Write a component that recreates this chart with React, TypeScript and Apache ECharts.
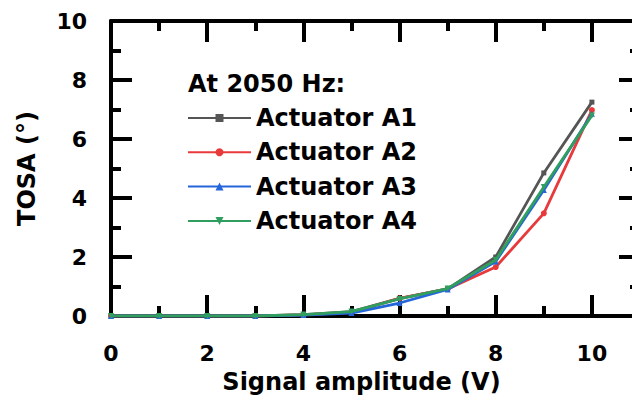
import React, { useEffect, useRef } from "react";
import * as echarts from "echarts";

const xValues = [0, 1, 2, 3, 4, 5, 6, 7, 8, 9, 10];
const seriesNames = ["Actuator A1", "Actuator A2", "Actuator A3", "Actuator A4"];
const a1 = [0, 0, 0, 0, 0.05, 0.15, 0.6, 0.92, 2.0, 4.85, 7.25];
const a2 = [0, 0, 0, 0, 0.04, 0.12, 0.6, 0.92, 1.66, 3.48, 6.98];
const a3 = [0, 0, 0, 0, 0.03, 0.1, 0.44, 0.9, 1.85, 4.27, 6.86];
const a4 = [0, 0, 0, 0, 0.05, 0.15, 0.58, 0.93, 1.9, 4.37, 6.8];
const legendTitle = "At 2050 Hz:";
const xName = "Signal amplitude (V)";
const yName = "TOSA (°)";

const colors = ["#555555", "#e8393b", "#2466d9", "#2f9e5f"];
const symbols = ["rect", "circle", "triangle", "path://M0,0 L10,0 L5,10 Z"];
const FONT = "DejaVu Sans";

export default function App() {
  const ref = useRef<HTMLDivElement>(null);
  useEffect(() => {
    document.body.style.margin = "0";
    const chart = echarts.init(ref.current!, null, { renderer: "svg" });
    const allData = [a1, a2, a3, a4];
    const axisLine = { show: true, onZero: false, lineStyle: { color: "#000", width: 4 } };
    const majorTick = { show: true, inside: true, length: 21, lineStyle: { color: "#000", width: 4 } };
    const minorTick = { show: true, splitNumber: 2, length: 10, lineStyle: { color: "#000", width: 4 } };
    const labelStyle = { color: "#000", fontFamily: FONT, fontWeight: "bold" as const, fontSize: 22 };
    chart.setOption({
      animation: false,
      backgroundColor: "#fff",
      grid: { left: 111, top: 21, right: 20, bottom: 89 },
      legend: {
        orient: "vertical",
        left: 187,
        top: 106,
        padding: 0,
        itemWidth: 63,
        itemHeight: 10,
        itemGap: 10.3,
        data: seriesNames,
        textStyle: { color: "#000", fontFamily: FONT, fontWeight: "bold", fontSize: 24, lineHeight: 24 },
      },
      graphic: [
        {
          type: "text",
          left: 188,
          top: 72,
          style: { text: legendTitle, fill: "#000", font: `bold 24px "${FONT}"` },
        },
      ],
      xAxis: [
        {
          type: "value",
          min: 0,
          max: 11,
          interval: 2,
          position: "bottom",
          axisLine,
          axisTick: majorTick,
          minorTick,
          splitLine: { show: false },
          axisLabel: { ...labelStyle, margin: 26, formatter: (v: number) => (v <= 10 ? String(v) : "") },
          name: xName,
          nameLocation: "middle",
          nameGap: 54,
          nameTextStyle: { color: "#000", fontFamily: FONT, fontWeight: "bold", fontSize: 24, padding: [0, 28, 0, 0] },
        },
        {
          type: "value",
          min: 0,
          max: 11,
          interval: 2,
          position: "top",
          axisLine,
          axisTick: majorTick,
          minorTick,
          splitLine: { show: false },
          axisLabel: { show: false },
        },
      ],
      yAxis: [
        {
          type: "value",
          min: 0,
          max: 10,
          interval: 2,
          position: "left",
          axisLine,
          axisTick: majorTick,
          minorTick,
          splitLine: { show: false },
          axisLabel: { ...labelStyle, margin: 24 },
          name: yName,
          nameLocation: "middle",
          nameGap: 72,
          nameTextStyle: { color: "#000", fontFamily: FONT, fontWeight: "bold", fontSize: 24 },
        },
        {
          type: "value",
          min: 0,
          max: 10,
          interval: 2,
          position: "right",
          axisLine,
          axisTick: majorTick,
          minorTick,
          splitLine: { show: false },
          axisLabel: { show: false },
        },
      ],
      series: seriesNames.map((name, i) => ({
        name,
        type: "line",
        data: xValues.map((x, j) => [x, allData[i][j]]),
        symbol: symbols[i],
        symbolSize: i === 0 ? 5 : 6,
        showSymbol: true,
        lineStyle: { color: colors[i], width: 2.8 },
        itemStyle: { color: colors[i] },
        z: 3 + i,
      })),
    });
    return () => chart.dispose();
  }, []);
  return (
    <div style={{ width: 632, height: 405, overflow: "hidden", position: "relative" }}>
      <div ref={ref} style={{ width: 660, height: 405 }} />
    </div>
  );
}
